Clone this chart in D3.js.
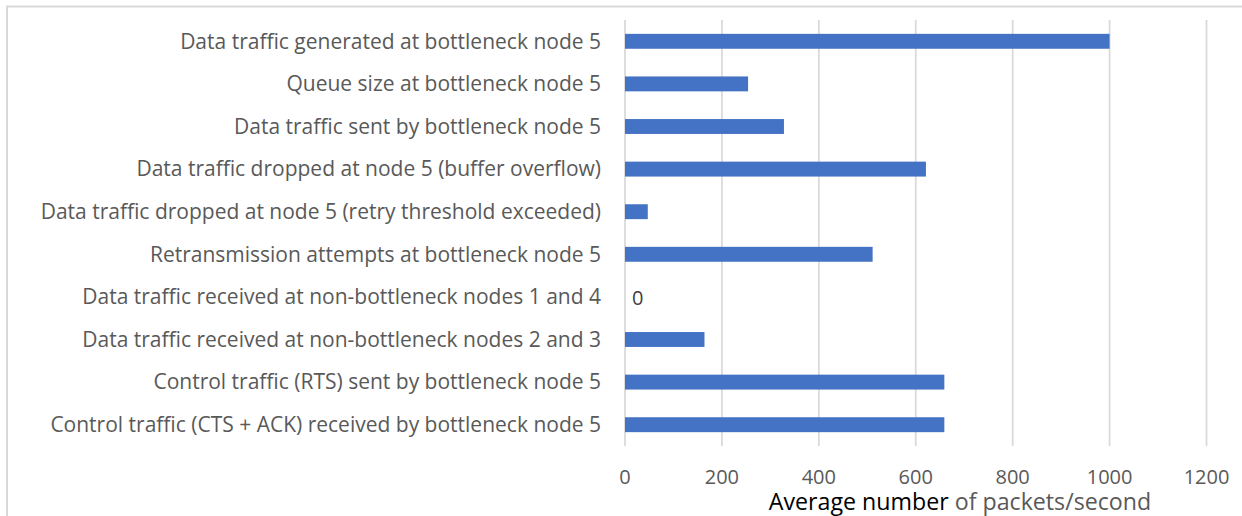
<!DOCTYPE html>
<html>
<head>
<meta charset="utf-8">
<script src="https://cdn.jsdelivr.net/npm/d3@7"></script>
<style>
  body { margin: 0; background: #fff; }
  svg { display: block; font-family: "Open Sans", "Noto Sans", sans-serif; }
</style>
</head>
<body>
<svg id="chart" width="1242" height="516"></svg>
<script>
// categories top to bottom
var categories = [
	'Data traffic generated at bottleneck node 5',
	'Queue size at bottleneck node 5',
	'Data traffic sent by bottleneck node 5',
	'Data traffic dropped at node 5 (buffer overflow)',
	'Data traffic dropped at node 5 (retry threshold exceeded)',
	'Retransmission attempts at bottleneck node 5',
	'Data traffic received at non-bottleneck nodes 1 and 4',
	'Data traffic received at non-bottleneck nodes 2 and 3',
	'Control traffic (RTS) sent by bottleneck node 5',
	'Control traffic (CTS + ACK) received by bottleneck node 5'
];

// average packets/second
var values = [1000, 254, 328, 621, 47, 511, 0, 164, 659, 659];

var xTicks = [0, 200, 400, 600, 800, 1000, 1200];

var svg = d3.select('#chart');

var margin = { top: 20, right: 35, bottom: 70, left: 625 };
var width = 1242, height = 516;

var x = d3.scaleLinear()
	.domain([0, 1200])
	.range([margin.left, width - margin.right - 0.5]);

var y = d3.scaleBand()
	.domain(categories)
	.range([margin.top, height - margin.bottom])
	.paddingInner(0.65)
	.paddingOuter(0.325);

// chart area border (top and left visible only)
svg.append('path')
	.attr('d', 'M7,516V6.5H1242')
	.attr('fill', 'none')
	.attr('stroke', '#d9d9d9')
	.attr('stroke-width', 2);

// gridlines
svg.append('g')
	.selectAll('line')
	.data(xTicks)
	.join('line')
	.attr('x1', function(d) { return x(d); })
	.attr('x2', function(d) { return x(d); })
	.attr('y1', margin.top)
	.attr('y2', height - margin.bottom)
	.attr('stroke', '#d9d9d9')
	.attr('stroke-width', 1.75);

// bars
svg.append('g')
	.selectAll('rect')
	.data(values)
	.join('rect')
	.attr('x', x(0))
	.attr('y', function(d, i) { return y(categories[i]); })
	.attr('width', function(d) { return x(d) - x(0); })
	.attr('height', y.bandwidth())
	.attr('fill', '#4472c4');

// data label for the zero bar
svg.append('g')
	.selectAll('text')
	.data(values.map(function(v, i) { return { v: v, c: categories[i] }; }).filter(function(d) { return d.v === 0; }))
	.join('text')
	.attr('x', function(d) { return x(d.v) + 7; })
	.attr('y', function(d) { return y(d.c) + y.bandwidth() / 2 + 8; })
	.attr('font-size', 20)
	.attr('fill', '#404040')
	.text(function(d) { return d.v; });

// category labels
svg.append('g')
	.selectAll('text')
	.data(categories)
	.join('text')
	.attr('x', x(0) - 24)
	.attr('y', function(d) { return y(d) + y.bandwidth() / 2; })
	.attr('dy', '0.35em')
	.attr('text-anchor', 'end')
	.attr('font-size', 21)
	.attr('fill', '#595959')
	.text(function(d) { return d; });

// x tick labels
svg.append('g')
	.selectAll('text')
	.data(xTicks)
	.join('text')
	.attr('x', function(d) { return x(d); })
	.attr('y', 484)
	.attr('text-anchor', 'middle')
	.attr('font-size', 20)
	.attr('fill', '#595959')
	.text(function(d) { return d; });

// axis title
var title = svg.append('text')
	.attr('x', 960)
	.attr('y', 510)
	.attr('text-anchor', 'middle')
	.attr('font-size', 23.2);
title.append('tspan').attr('fill', '#000').text('Average number');
title.append('tspan').attr('fill', '#595959').text(' of packets/second');
</script>
</body>
</html>
